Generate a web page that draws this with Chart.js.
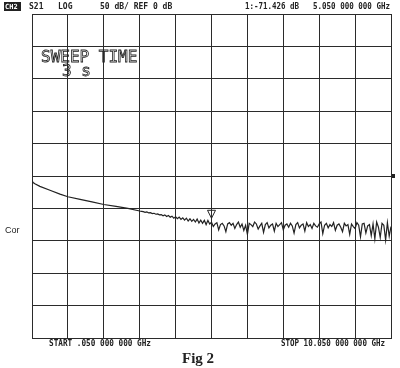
<!DOCTYPE html>
<html>
<head>
<meta charset="utf-8">
<script src="https://cdn.jsdelivr.net/npm/chart.js@4.4.1/dist/chart.umd.min.js"></script>
<style>
  html, body { margin: 0; padding: 0; background: #fff; }
  #wrap { width: 400px; height: 368px; }
</style>
</head>
<body>
<div id="wrap"><canvas id="the-chart" width="400" height="368"></canvas></div>
<script>
//
// S21 sweep, CH2, 50 dB/div, ref 0 dB
//

// Frequencies (GHz) and S21 (dB).
const freqGHz = [
  0.05, 0.08, 0.13, 0.27, 0.55, 0.83, 1.05, 1.39, 1.72, 2.05, 2.39, 2.72,
  3.05, 3.10, 3.15, 3.20, 3.25, 3.30, 3.35, 3.40, 3.45, 3.50,
  3.55, 3.60, 3.65, 3.70, 3.75, 3.80, 3.85, 3.90, 3.95, 4.00,
  4.05, 4.10, 4.15, 4.20, 4.25, 4.30, 4.35, 4.40, 4.45, 4.50,
  4.55, 4.60, 4.65, 4.70, 4.75, 4.80, 4.85, 4.90, 4.95, 5.00,
  5.05, 5.10, 5.15, 5.20, 5.25, 5.30, 5.35, 5.40, 5.45, 5.50,
  5.55, 5.60, 5.65, 5.70, 5.75, 5.80, 5.85, 5.90, 5.95, 6.00,
  6.05, 6.10, 6.15, 6.20, 6.25, 6.30, 6.35, 6.40, 6.45, 6.50,
  6.55, 6.60, 6.65, 6.70, 6.75, 6.80, 6.85, 6.90, 6.95, 7.00,
  7.05, 7.10, 7.15, 7.20, 7.25, 7.30, 7.35, 7.40, 7.45, 7.50,
  7.55, 7.60, 7.65, 7.70, 7.75, 7.80, 7.85, 7.90, 7.95, 8.00,
  8.05, 8.10, 8.15, 8.20, 8.25, 8.30, 8.35, 8.40, 8.45, 8.50,
  8.55, 8.60, 8.65, 8.70, 8.75, 8.80, 8.85, 8.90, 8.95, 9.00,
  9.05, 9.10, 9.15, 9.20, 9.25, 9.30, 9.35, 9.40, 9.45, 9.50,
  9.55, 9.60, 9.65, 9.70, 9.75, 9.80, 9.85, 9.90, 9.95, 10.00,
  10.05
];

const s21dB = [
  -7, -10, -12, -16, -22, -28, -32, -36, -40, -44, -47, -50,
  -54, -54.5, -55, -56, -55.5, -57, -56.5, -58, -57.5, -59,
  -58.5, -60, -59.5, -61.5, -60, -62.5, -61, -63.5, -62, -65,
  -63, -66, -63.5, -67, -64.5, -68, -65, -69.5, -66, -70,
  -67, -71, -66.5, -72.5, -68, -73, -68.5, -75, -68.5, -74,
  -71.4, -78, -74, -72, -83, -75, -73, -77, -86, -74,
  -72, -76, -73, -81, -75, -71, -79, -74, -84, -76,
  -90, -73, -75, -78, -71, -74, -82, -77, -73, -87,
  -75, -72, -80, -76, -74, -85, -73, -78, -75, -72,
  -83, -76, -74, -79, -73, -77, -88, -75, -72, -80,
  -76, -74, -85, -72, -78, -75, -81, -73, -77, -79,
  -74, -71, -89, -76, -73, -80, -75, -78, -72, -84,
  -76, -74, -79, -86, -73, -77, -75, -90, -74, -78,
  -81, -72, -76, -94, -74, -73, -88, -77, -75, -92,
  -74, -97, -71, -79, -95, -73, -76, -99, -72, -93,
  -78
];

// Grid divisions.
const xTicks = [0.05, 1.05, 2.05, 3.05, 4.05, 5.05, 6.05, 7.05, 8.05, 9.05, 10.05];
const yTicks = [-250, -200, -150, -100, -50, 0, 50, 100, 150, 200, 250];

// Marker 1 and reference level.
const marker1 = { freq: 5.05, value: -71.426 };
const refLevel = 0;

const ink = '#222';

const annotations = {
  id: 'annotations',
  afterDraw(chart) {
    const ctx = chart.ctx;
    const xs = chart.scales.x;
    const ys = chart.scales.y;
    ctx.save();

    // Header line.
    ctx.fillStyle = ink;
    ctx.fillRect(4, 2, 17, 9);
    ctx.textBaseline = 'middle';
    ctx.textAlign = 'left';
    ctx.fillStyle = '#fff';
    ctx.font = 'bold 7px "DejaVu Sans Mono"';
    ctx.fillText('CH2', 5, 7, 15);
    ctx.fillStyle = ink;
    ctx.font = 'bold 8px "DejaVu Sans Mono"';
    ctx.fillText('S21', 29, 7);
    ctx.fillText('LOG', 58, 7);
    ctx.fillText('50 dB/ REF 0 dB', 100, 7, 75);
    ctx.fillText('1:-71.426 dB', 245, 7, 54);
    ctx.fillText('5.050 000 000 GHz', 313, 7, 77);

    // Footer.
    ctx.fillText('START .050 000 000 GHz', 49, 344, 102);
    ctx.fillText('STOP 10.050 000 000 GHz', 281, 344, 104);

    ctx.font = 'bold 15px "Liberation Serif"';
    ctx.fillText('Fig 2', 182, 359);

    ctx.font = '9px "Liberation Sans"';
    ctx.fillText('Cor', 5, 231);

    // Sweep time annotation.
    ctx.strokeStyle = ink;
    ctx.lineWidth = 0.8;
    ctx.textBaseline = 'alphabetic';
    ctx.font = '16px "DejaVu Sans Mono"';
    ctx.strokeText('SWEEP TIME', 41, 61.5, 98);
    ctx.strokeText('3 s', 62, 76);

    // Reference position marker on right edge.
    const ry = ys.getPixelForValue(refLevel);
    ctx.fillStyle = ink;
    ctx.fillRect(chart.chartArea.right + 1, ry - 2, 3, 4);

    // Marker 1 triangle.
    const mx = xs.getPixelForValue(marker1.freq);
    const my = ys.getPixelForValue(marker1.value);
    ctx.lineWidth = 1;
    ctx.beginPath();
    ctx.moveTo(mx - 4, my - 12);
    ctx.lineTo(mx + 4, my - 12);
    ctx.lineTo(mx, my - 4);
    ctx.closePath();
    ctx.stroke();

    ctx.restore();
  }
};

const ctx = document.getElementById('the-chart');
const theChart = new Chart(ctx, {
  type: 'line',
  data: {
    datasets: [{
      data: freqGHz.map((f, i) => ({ x: f, y: s21dB[i] })),
      borderColor: ink,
      borderWidth: 1.2,
      pointRadius: 0,
      tension: 0,
      fill: false
    }]
  },
  options: {
    responsive: false,
    animation: false,
    layout: { padding: { left: 32, right: 9, top: 14, bottom: 30 } },
    plugins: {
      legend: { display: false },
      tooltip: { enabled: false }
    },
    scales: {
      x: {
        type: 'linear',
        min: 0.05,
        max: 10.05,
        afterBuildTicks: (scale) => { scale.ticks = xTicks.map((v) => ({ value: v })); },
        ticks: { display: false },
        grid: { color: '#2b2b2b', lineWidth: 1, drawTicks: false },
        border: { color: '#2b2b2b', width: 1 }
      },
      y: {
        type: 'linear',
        min: -250,
        max: 250,
        afterBuildTicks: (scale) => { scale.ticks = yTicks.map((v) => ({ value: v })); },
        ticks: { display: false },
        grid: { color: '#2b2b2b', lineWidth: 1, drawTicks: false },
        border: { color: '#2b2b2b', width: 1 }
      }
    }
  },
  plugins: [annotations]
});
</script>
</body>
</html>
